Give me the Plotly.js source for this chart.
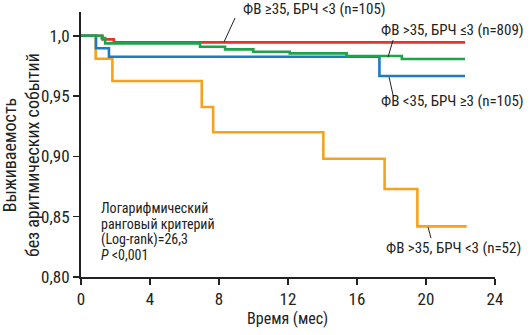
<!DOCTYPE html>
<html><head><meta charset="utf-8">
<script src="https://cdn.plot.ly/plotly-3.0.1.min.js"></script>
<style>html,body{margin:0;padding:0;background:#fff}#c{width:530px;height:335px}</style>
</head><body><div id="c"></div>
<script>
// Kaplan-Meier step data (months, survival)
const redT = [0, 1.25, 1.9, 22.26];
const redS = [1, 0.997, 0.9945, 0.9945];
const orangeT = [0, 0.85, 1.82, 7.0, 7.66, 14.05, 17.6, 19.5, 22.36];
const orangeS = [1, 0.981, 0.9625, 0.941, 0.920, 0.898, 0.873, 0.842, 0.842];
const blueT = [0, 0.87, 1.62, 17.3, 22.26];
const blueS = [1, 0.9896, 0.9826, 0.9666, 0.9666];
const greenT = [0, 1.2, 1.4, 6.9, 8.35, 9.99, 12.1, 15.4, 18.6, 22.26];
const greenS = [1, 0.998, 0.9937, 0.9909, 0.9887, 0.9867, 0.9854, 0.9832, 0.9807, 0.9807];

const xTicks = [0, 4, 8, 12, 16, 20, 24];
const yTickVals = [0.80, 0.85, 0.90, 0.95, 1.0];
const yTickText = ['0,80', '0,85', '0,90', '0,95', '1,0'];

const labels = ['ФВ ≥35, БРЧ <3 (n=105)', 'ФВ >35, БРЧ ≤3 (n=809)', 'ФВ <35, БРЧ ≥3 (n=105)', 'ФВ >35, БРЧ <3 (n=52)'];
const statLines = ['Логарифмический', 'ранговый критерий', '(Log-rank)=26,3', '<i>P</i> <0,001'];

const F = 'Liberation Sans Narrow, Arial Narrow, Roboto Condensed, sans-serif';
const RED = '#e8332b', ORANGE = '#f7a11c', BLUE = '#1f7ac4', GREEN = '#1ea24a';

function tr(x, y, c) {
  return {x: x, y: y, type: 'scatter', mode: 'lines', line: {shape: 'hv', color: c, width: 2.6}, hoverinfo: 'skip'};
}
const data = [tr(redT, redS, RED), tr(orangeT, orangeS, ORANGE), tr(blueT, blueS, BLUE), tr(greenT, greenS, GREEN)];

const ann = [];
// top label sits above the plot area -> paper y with pixel shift
ann.push({text: labels[0], x: 13.51, y: 1, xref: 'x', yref: 'paper', yshift: 3, showarrow: false,
  xanchor: 'center', yanchor: 'middle', font: {family: F, size: 15, color: '#222'}});
const lblPos = [null, [21.54, 1.0047], [21.54, 0.9458], [21.57, 0.8238]];
for (let i = 1; i < 4; i++) ann.push({text: labels[i], x: lblPos[i][0], y: lblPos[i][1], xref: 'x', yref: 'y', showarrow: false,
  xanchor: 'center', yanchor: 'middle', font: {family: F, size: 15, color: '#222'}});
const statY = [208, 223.5, 239, 254.5];
statLines.forEach((t, i) => ann.push({text: t, x: 1.04, y: 1 - (statY[i] - 35.7) / 1205, xref: 'x', yref: 'y', showarrow: false,
  xanchor: 'left', yanchor: 'middle', font: {family: F, size: 14, color: '#222'}}));
ann.push({text: 'Выживаемость<br>без аритмических событий', textangle: -90, xref: 'paper', yref: 'paper', x: 0, y: 0.46,
  xshift: -60, xanchor: 'center', yanchor: 'middle', showarrow: false, font: {family: F, size: 18, color: '#222'}});
ann.push({text: 'Время (мес)', xref: 'paper', yref: 'paper', x: 0.498, y: 0, yshift: -41, xanchor: 'center', yanchor: 'middle',
  showarrow: false, font: {family: F, size: 16, color: '#222'}});

const lead = [[8.93, 1.0147, 8.29, 0.9948], [18.09, 0.9964, 17.8, 0.9823], [17.86, 0.9657, 18.09, 0.9508], [20.12, 0.8413, 20.29, 0.8322]];
const shapes = lead.map(l => ({type: 'line', xref: 'x', yref: 'y', x0: l[0], y0: l[1], x1: l[2], y1: l[3], line: {color: '#222', width: 1}}));

const layout = {
  width: 530, height: 335,
  margin: {l: 81, r: 35, t: 12, b: 58},
  paper_bgcolor: '#fff', plot_bgcolor: '#fff',
  showlegend: false,
  xaxis: {range: [0, 24], tickvals: xTicks, ticks: 'outside', ticklen: 6, tickwidth: 1.5, tickcolor: '#222',
    showline: true, linecolor: '#222', linewidth: 2, showgrid: false, zeroline: false,
    tickfont: {family: F, size: 17, color: '#222'}},
  yaxis: {range: [0.80, 1.0197], tickvals: yTickVals, ticktext: yTickText, ticks: 'outside', ticklen: 6, tickwidth: 1.5, tickcolor: '#222',
    showline: true, linecolor: '#222', linewidth: 2, showgrid: false, zeroline: false,
    tickfont: {family: F, size: 17, color: '#222'}},
  annotations: ann, shapes: shapes
};
Plotly.newPlot('c', data, layout, {staticPlot: true});
</script></body></html>
